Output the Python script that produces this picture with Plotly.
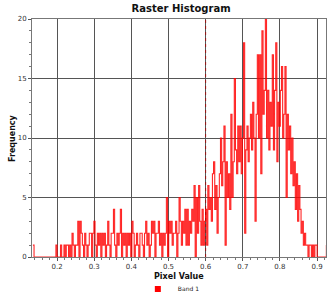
import plotly.graph_objects as go

# ---- data ----
BIN_MIN = 0.135
BIN_MAX = 0.925
frequencies = [
    1, 0, 0, 0, 0, 0, 0, 0, 0, 0,
    0, 0, 0, 0, 0, 0, 0, 0, 0, 0,
    1, 0, 0, 0, 1, 0, 0, 1, 0, 1,
    1, 0, 1, 0, 2, 1, 0, 1, 1, 3,
    0, 3, 2, 1, 0, 2, 1, 0, 1, 2,
    2, 0, 2, 3, 1, 0, 2, 1, 2, 0,
    2, 1, 2, 0, 1, 3, 1, 0, 2, 2,
    4, 1, 0, 2, 1, 2, 4, 0, 2, 1,
    2, 0, 2, 1, 2, 0, 3, 2, 0, 1,
    2, 1, 0, 2, 2, 1, 0, 2, 3, 1,
    2, 0, 1, 3, 2, 3, 0, 2, 2, 3,
    1, 2, 0, 2, 1, 2, 5, 0, 3, 2,
    3, 1, 2, 2, 3, 0, 2, 5, 3, 1,
    3, 2, 4, 1, 4, 1, 3, 2, 4, 3,
    6, 0, 5, 2, 6, 3, 1, 4, 1, 3,
    4, 1, 6, 4, 5, 3, 7, 8, 4, 6,
    2, 5, 7, 10, 6, 8, 11, 1, 8, 5,
    7, 4, 12, 5, 8, 15, 9, 7, 11, 8,
    11, 7, 10, 18, 2, 9, 11, 8, 10, 12,
    9, 13, 10, 3, 12, 17, 10, 17, 7, 19,
    12, 14, 20, 10, 14, 9, 13, 11, 17, 9,
    14, 18, 8, 13, 11, 14, 16, 10, 12, 16,
    5, 12, 9, 11, 7, 10, 6, 8, 4, 7,
    3, 6, 4, 2, 3, 1, 2, 1, 1, 0,
    1, 1, 0, 1, 0, 1, 1, 0, 0, 0,
    0, 0, 0, 0, 0, 1,
]
x_ticks = [0.2, 0.3, 0.4, 0.5, 0.6, 0.7, 0.8, 0.9]
y_ticks = [0, 5, 10, 15, 20]
marker_value = 0.6
series_name = "Band 1"
x_title = "Pixel Value"
y_title = "Frequency"

n = len(frequencies)
step = (BIN_MAX - BIN_MIN) / (n - 1)
pixel_values = [BIN_MIN + i * step for i in range(n)]

FONT = "DejaVu Sans"
W, H = 331, 297

fig = go.Figure()
fig.add_trace(go.Scatter(
    x=pixel_values, y=frequencies, mode="lines",
    line=dict(color="rgba(255,0,0,0.85)", width=1.1, shape="hv"),
    showlegend=False, hoverinfo="x+y",
))
fig.add_trace(go.Scatter(
    x=[None], y=[None], mode="markers", name=series_name,
    marker=dict(symbol="square", size=6, color="#ff0000"),
))

fig.add_vline(x=marker_value, line=dict(color="rgba(170,0,0,0.8)", width=1, dash="dot"))

# axis titles placed in container coordinates
fig.add_annotation(text="<b>%s</b>" % x_title, xref="paper", x=0.5, yref="paper",
                   y=-(276 - 257) / 238, yanchor="middle", xanchor="center", showarrow=False,
                   font=dict(family=FONT, size=8, color="#111111"))
fig.add_annotation(text="<b>%s</b>" % y_title, xref="paper", x=-(32 - 12) / 294, xanchor="center",
                   yref="paper", y=0.5, yanchor="middle", textangle=-90, showarrow=False,
                   font=dict(family=FONT, size=8, color="#111111"))

fig.update_layout(
    width=W, height=H,
    margin=dict(l=32, r=5, t=19, b=40, autoexpand=False),
    paper_bgcolor="white", plot_bgcolor="white",
    font=dict(family=FONT, size=7, color="#333333"),
    title=dict(text="<b>Raster Histogram</b>", x=0.547, xanchor="center",
               yref="container", y=1 - 8.5 / H, yanchor="middle",
               font=dict(family=FONT, size=10, color="#111111")),
    showlegend=True,
    legend=dict(orientation="h", x=0.36, xanchor="left",
                yref="container", y=1 - 289 / H, yanchor="middle",
                font=dict(family=FONT, size=6, color="#222222"),
                itemwidth=30, bgcolor="rgba(0,0,0,0)"),
)
fig.update_xaxes(
    range=[0.1326, 0.924], tickvals=x_ticks, ticktext=[str(v) for v in x_ticks],
    automargin=False,
    showgrid=True, gridcolor="#555555", gridwidth=1,
    showline=True, linecolor="#777777", linewidth=1, mirror=True,
    ticks="outside", ticklen=3, tickcolor="#555555",
    minor=dict(dtick=0.02, tick0=0.2, ticks="outside", ticklen=2, tickcolor="#777777", showgrid=False),
    zeroline=False,
)
fig.update_yaxes(
    range=[0, 20], tickvals=y_ticks,
    automargin=False,
    showgrid=True, gridcolor="#555555", gridwidth=1,
    showline=True, linecolor="#777777", linewidth=1, mirror=True,
    ticks="outside", ticklen=3, tickcolor="#555555",
    minor=dict(dtick=1, ticks="outside", ticklen=2, tickcolor="#777777", showgrid=False),
    zeroline=False,
)

fig.write_html("out.html", config={"displayModeBar": False},
               post_script="document.body.style.margin='0';document.body.style.overflow='hidden';")
